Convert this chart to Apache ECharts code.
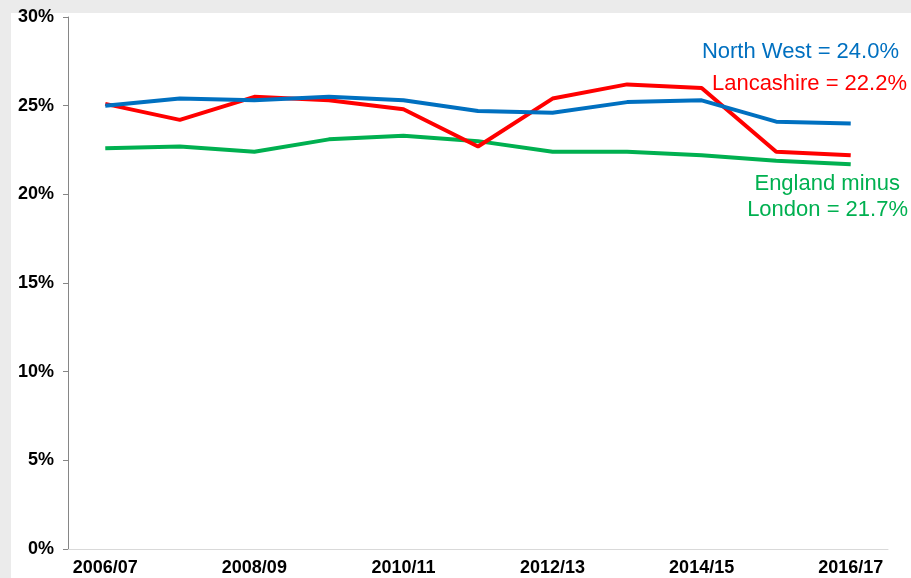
<!DOCTYPE html>
<html>
<head>
<meta charset="utf-8">
<script src="https://cdn.jsdelivr.net/npm/echarts@6/dist/echarts.min.js"></script>
<style>
  html, body { margin: 0; padding: 0; background: #ebebeb; }
  #chart { width: 911px; height: 578px; }
</style>
</head>
<body>
<div id="chart"></div>
<script>
// 数据
const years = ['2006/07', '2007/08', '2008/09', '2009/10', '2010/11', '2011/12',
    '2012/13', '2013/14', '2014/15', '2015/16', '2016/17'];
const northWest = [25.0, 25.4, 25.3, 25.5, 25.3, 24.7, 24.6, 25.2, 25.3, 24.1, 24.0];
const lancashire = [25.1, 24.2, 25.5, 25.3, 24.8, 22.7, 25.4, 26.2, 26.0, 22.4, 22.2];
const englandMinusLondon = [22.6, 22.7, 22.4, 23.1, 23.3, 23.0, 22.4, 22.4, 22.2, 21.9, 21.7];

const last = arr => arr[arr.length - 1].toFixed(1) + '%';

const chart = echarts.init(document.getElementById('chart'));

const labelFont = { fontFamily: 'Liberation Sans, Arial, sans-serif', fontSize: 22 };

const option = {
    backgroundColor: '#ebebeb',
    animation: false,
    graphic: [
        // 白色绘图背景
        { type: 'rect', left: 11, top: 13, z: -10, shape: { width: 900, height: 565 }, style: { fill: '#fff' } },
        { type: 'text', right: 12, top: 41, style: Object.assign({ text: 'North West = ' + last(northWest), fill: '#0070C0' }, labelFont) },
        { type: 'text', right: 4, top: 73, style: Object.assign({ text: 'Lancashire = ' + last(lancashire), fill: '#FF0000' }, labelFont) },
        { type: 'text', right: 11, top: 173, style: Object.assign({ text: 'England minus', fill: '#00B050' }, labelFont) },
        { type: 'text', right: 3, top: 199, style: Object.assign({ text: 'London = ' + last(englandMinusLondon), fill: '#00B050' }, labelFont) }
    ],
    grid: { left: 68, right: 23, top: 17, bottom: 29 },
    xAxis: {
        type: 'category',
        data: years,
        boundaryGap: true,
        axisLine: { lineStyle: { color: '#d9d9d9', width: 1 } },
        axisTick: { interval: 1, length: 6, lineStyle: { color: '#d9d9d9' } },
        axisLabel: {
            interval: 1,
            color: '#000',
            fontWeight: 'bold',
            fontSize: 18,
            fontFamily: 'Liberation Sans, Arial, sans-serif',
            margin: 10
        }
    },
    yAxis: {
        type: 'value',
        min: 0,
        max: 30,
        interval: 5,
        splitLine: { show: false },
        axisLine: { show: true, lineStyle: { color: '#868686' } },
        axisTick: { show: true, length: 5, lineStyle: { color: '#868686' } },
        axisLabel: {
            formatter: '{value}%',
            color: '#000',
            fontWeight: 'bold',
            fontSize: 18,
            fontFamily: 'Liberation Sans, Arial, sans-serif',
            margin: 14
        }
    },
    series: [
        { name: 'England minus London', type: 'line', data: englandMinusLondon, symbol: 'none',
          lineStyle: { color: '#00B050', width: 4 } },
        { name: 'Lancashire', type: 'line', data: lancashire, symbol: 'none',
          lineStyle: { color: '#FF0000', width: 4 } },
        { name: 'North West', type: 'line', data: northWest, symbol: 'none',
          lineStyle: { color: '#0070C0', width: 4 } }
    ]
};

chart.setOption(option);
</script>
</body>
</html>
